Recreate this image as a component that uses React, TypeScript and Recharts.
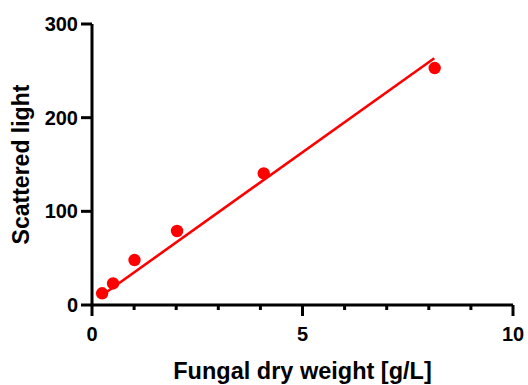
import { ScatterChart, Scatter, XAxis, YAxis, Label } from 'recharts';

const weightX = [0.24, 0.5, 1.01, 2.02, 4.08, 8.14];
const lightY = [12.5, 23, 48, 79, 140.5, 253];

// fitted line, ends
const fitX = [0.24, 8.13];
const fitY = [10.4, 263.4];

const xTicks = [0, 1, 2, 3, 4, 5, 6, 7, 8, 9, 10];
const xLabelled = [0, 5, 10];
const yTicks = [0, 100, 200, 300];

const points = weightX.map((x, i) => ({ x, y: lightY[i] }));
const fit = fitX.map((x, i) => ({ x, y: fitY[i] }));

const FONT = '"Liberation Sans", Arial, sans-serif';
const RED = '#ff0000';

function XTick(props: any) {
  const { x, y, payload } = props;
  const major = xLabelled.includes(payload.value);
  return (
    <g>
      <line x1={x} x2={x} y1={y} y2={y + (major ? 11 : 5)} stroke="#000" strokeWidth={3} />
      {major && (
        <text x={x} y={y + 36} textAnchor="middle" fontFamily={FONT} fontWeight="bold" fontSize={20} fill="#000">
          {payload.value}
        </text>
      )}
    </g>
  );
}

function Dot(props: any) {
  const { cx, cy } = props;
  return <circle cx={cx} cy={cy} r={6.2} fill={RED} />;
}

export default function App() {
  return (
    <div style={{ position: 'absolute', left: 0, top: 0, background: '#fff' }}>
      <ScatterChart width={528} height={385} margin={{ top: 24, right: 15, bottom: 0, left: 0 }}>
        <XAxis
          type="number"
          dataKey="x"
          domain={[0, 10]}
          ticks={xTicks}
          interval={0}
          tickSize={0}
          tickMargin={0}
          tickLine={false}
          axisLine={{ stroke: '#000', strokeWidth: 3 }}
          tick={<XTick />}
          height={80}
        >
          <Label
            value="Fungal dry weight [g/L]"
            position="insideBottom"
            offset={6}
            style={{ fontFamily: FONT, fontWeight: 'bold', fontSize: 23.5, fill: '#000' }}
          />
        </XAxis>
        <YAxis
          type="number"
          dataKey="y"
          domain={[0, 300]}
          ticks={yTicks}
          width={92}
          tickSize={11}
          tickMargin={3}
          tickLine={{ stroke: '#000', strokeWidth: 3 }}
          axisLine={{ stroke: '#000', strokeWidth: 3 }}
          tick={{ fill: '#000', fontFamily: FONT, fontWeight: 'bold', fontSize: 20 }}
        >
          <Label
            value="Scattered light"
            angle={-90}
            position="insideLeft"
            offset={21}
            style={{ fontFamily: FONT, fontWeight: 'bold', fontSize: 23, fill: '#000', textAnchor: 'middle' }}
          />
        </YAxis>
        <Scatter
          data={fit}
          line={{ stroke: RED, strokeWidth: 2.6 }}
          shape={() => null}
          isAnimationActive={false}
        />
        <Scatter data={points} fill={RED} shape={<Dot />} isAnimationActive={false} />
      </ScatterChart>
    </div>
  );
}
